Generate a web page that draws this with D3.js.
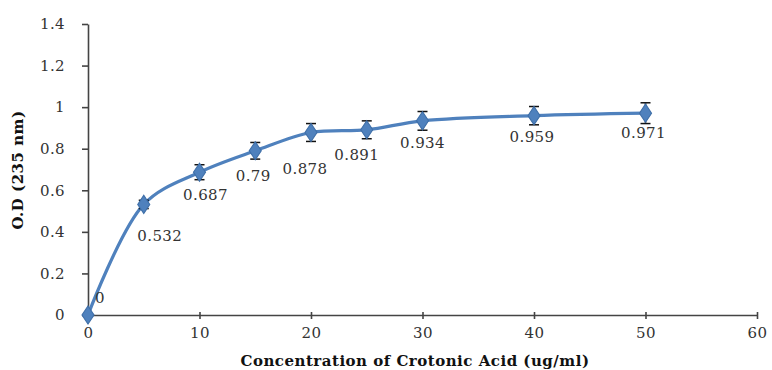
<!DOCTYPE html>
<html>
<head>
<meta charset="utf-8">
<script src="https://cdn.jsdelivr.net/npm/d3@7"></script>
<style>
  html, body { margin: 0; padding: 0; background: #fff; }
  svg { display: block; }
  .tick text { font-family: "DejaVu Serif", serif; font-size: 15px; fill: #333; letter-spacing: 0.4px; }
  .tick line, .domain { stroke: #444; stroke-width: 1.6px; }
  .val { font-family: "DejaVu Serif", serif; font-size: 15px; fill: #333; letter-spacing: 0.4px; }
  .title { font-family: "DejaVu Serif", serif; font-weight: bold; font-size: 15px; fill: #111; letter-spacing: 0.5px; }
</style>
</head>
<body>
<svg id="chart" width="772" height="370"></svg>
<script>
// concentration (ug/ml) vs O.D
const conc = [0, 5, 10, 15, 20, 25, 30, 40, 50];
const od = [0, 0.532, 0.687, 0.79, 0.878, 0.891, 0.934, 0.959, 0.971];
const err = [0, 0.02, 0.036, 0.04, 0.043, 0.043, 0.045, 0.044, 0.05];
const xTicks = [0, 10, 20, 30, 40, 50, 60];
const yTicks = [0, 0.2, 0.4, 0.6, 0.8, 1, 1.2, 1.4];

// label nudges (px) so the value labels sit like the original
const labelDx = [12, 16, 6, -2, -6, -10, 0, -2, -2];
const labelDy = [-16, 33, 24, 26, 37, 26, 23, 22, 21];

const svg = d3.select('#chart');
const x = d3.scaleLinear().domain([0, 60]).range([88, 757]);
const y = d3.scaleLinear().domain([0, 1.4]).range([315, 24]);

svg.append('g')
  .attr('transform', `translate(0,${y(0)})`)
  .call(d3.axisBottom(x).tickValues(xTicks).tickSize(4).tickSizeOuter(0).tickPadding(8).tickFormat(d3.format('d')))
  .call((g) => g.selectAll('.tick line').attr('y1', -3));

svg.append('g')
  .attr('transform', `translate(${x(0)},0)`)
  .call(d3.axisLeft(y).tickValues(yTicks).tickSize(6).tickSizeOuter(0).tickPadding(17).tickFormat((d) => String(+d.toFixed(1))));

const pts = conc.map((c, i) => ({ c, v: od[i], e: err[i], i }));

const line = d3.line()
  .x((d) => x(d.c))
  .y((d) => y(d.v))
  .curve(d3.curveCatmullRom.alpha(0.5));

svg.append('path')
  .datum(pts)
  .attr('d', line)
  .attr('fill', 'none')
  .attr('stroke', '#4F81BD')
  .attr('stroke-width', 3.2);

// error bars
const eb = svg.append('g').attr('stroke', '#111').attr('stroke-width', 1.5);
pts.filter((d) => d.e > 0).forEach((d) => {
  const cx = x(d.c);
  eb.append('line').attr('x1', cx).attr('x2', cx).attr('y1', y(d.v + d.e)).attr('y2', y(d.v - d.e));
  eb.append('line').attr('x1', cx - 5).attr('x2', cx + 5).attr('y1', y(d.v + d.e)).attr('y2', y(d.v + d.e));
  eb.append('line').attr('x1', cx - 5).attr('x2', cx + 5).attr('y1', y(d.v - d.e)).attr('y2', y(d.v - d.e));
});

svg.append('g')
  .selectAll('path')
  .data(pts)
  .join('path')
  .attr('d', d3.symbol(d3.symbolDiamond, 95))
  .attr('transform', (d) => `translate(${x(d.c)},${y(d.v)}) scale(1.15,1)`)
  .attr('fill', '#4F81BD')
  .attr('stroke', '#3f6fa8')
  .attr('stroke-width', 1);

svg.append('g')
  .selectAll('text')
  .data(pts)
  .join('text')
  .attr('class', 'val')
  .attr('x', (d) => x(d.c) + labelDx[d.i])
  .attr('y', (d) => y(d.v) + labelDy[d.i])
  .attr('text-anchor', 'middle')
  .attr('dominant-baseline', 'middle')
  .text((d) => String(d.v));

svg.append('text')
  .attr('class', 'title')
  .attr('x', 415)
  .attr('y', 362)
  .attr('text-anchor', 'middle')
  .attr('dominant-baseline', 'middle')
  .text('Concentration of Crotonic Acid (ug/ml)');

svg.append('text')
  .attr('class', 'title')
  .attr('transform', 'translate(19,170) rotate(-90)')
  .attr('text-anchor', 'middle')
  .attr('dominant-baseline', 'middle')
  .text('O.D (235 nm)');
</script>
</body>
</html>
